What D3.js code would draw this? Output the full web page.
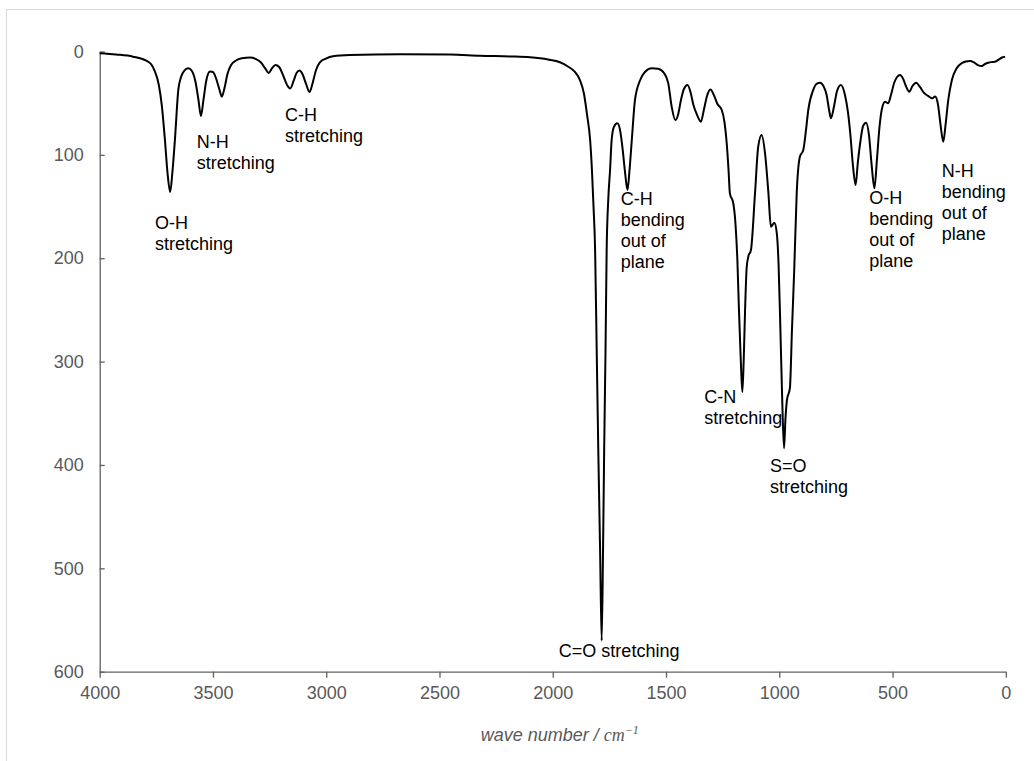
<!DOCTYPE html>
<html>
<head>
<meta charset="utf-8">
<script src="https://cdn.jsdelivr.net/npm/d3@7"></script>
<style>
  html, body { margin: 0; padding: 0; background: #fff; }
  svg { display: block; font-family: "Liberation Sans", Arial, sans-serif; }
</style>
</head>
<body>
<svg id="chart" width="1034" height="761"></svg>
<script>
// IR spectrum: wave number (cm^-1) and absorption (inverted axis)
const wavenumber = [
  4000, 3928, 3853, 3781, 3759, 3739, 3726, 3712, 3701, 3689, 3679, 3668, 3653, 3641, 3628,
  3609, 3593, 3577, 3564, 3553, 3542, 3529, 3513, 3500, 3484, 3471, 3461, 3449, 3436, 3420, 3398,
  3372, 3336, 3310, 3288, 3268, 3254, 3239, 3224, 3208, 3191, 3173, 3159, 3144, 3131, 3118, 3105,
  3089, 3074, 3061, 3045, 3028, 3001, 2970, 2895, 2674, 2454, 2321, 2189, 2100, 2021, 1968, 1933,
  1902, 1880, 1862, 1849, 1835, 1827, 1820, 1813, 1806, 1799, 1791, 1784, 1778, 1773, 1767, 1762,
  1755, 1747, 1740, 1730, 1715, 1703, 1692, 1681, 1670, 1661, 1651, 1637, 1614, 1593, 1563, 1535,
  1509, 1490, 1475, 1459, 1447, 1434, 1421, 1405, 1392, 1379, 1363, 1346, 1333, 1319, 1304, 1289,
  1273, 1254, 1242, 1232, 1224, 1218, 1203, 1193, 1185, 1178, 1170, 1163, 1157, 1151, 1144, 1137,
  1125, 1107, 1093, 1078, 1063, 1048, 1037, 1022, 1011, 1003, 995, 987, 979, 973, 966, 953,
  944, 934, 923, 909, 894, 882, 872, 850, 836, 820, 805, 791, 780, 772, 758, 745,
  728, 710, 697, 686, 675, 663, 653, 641, 630, 617, 604, 593, 580, 569, 558, 547,
  533, 519, 507, 493, 480, 467, 454, 441, 426, 412, 396, 379, 361, 343, 326, 312,
  299, 288, 276, 266, 254, 238, 217, 193, 176, 158, 140, 123, 106, 92, 77, 61,
  48, 30, 17, 3
];
const absorption = [
  1.7, 2.9, 5.0, 10.6, 17.9, 32.4, 51.8, 85.6, 116.6, 135.9, 116.6, 85.6, 37.2, 24.7, 18.9,
  16.3, 18.9, 29.5, 46.9, 62.4, 46.9, 27.6, 19.3, 19.8, 27.6, 37.2, 43.7, 35.3, 21.8, 13.1, 8.7,
  6.6, 5.8, 7.3, 10.6, 16.9, 20.8, 16.0, 13.1, 15.0, 22.7, 32.4, 35.8, 28.5, 20.8, 18.4, 21.8,
  31.4, 39.2, 31.4, 17.9, 10.6, 6.8, 4.6, 3.4, 2.7, 2.9, 4.1, 4.8, 5.6, 7.7, 10.4, 14.5,
  19.8, 27.6, 41.1, 60.5, 85.6, 114.6, 150.1, 192.0, 288.8, 385.5, 482.3, 570.0, 482.3, 385.5, 288.8, 192.0,
  143.7, 114.6, 85.6, 73.0, 69.5, 75.9, 93.4, 116.6, 134.0, 114.6, 85.6, 46.9, 27.6, 19.8, 16.3, 16.7,
  20.8, 30.8, 53.4, 66.3, 61.4, 46.9, 36.3, 32.4, 39.2, 51.8, 61.4, 67.9, 56.6, 43.0, 36.8, 42.1,
  50.8, 56.6, 68.2, 88.8, 114.6, 137.2, 146.8, 167.8, 201.7, 250.1, 298.4, 329.4, 298.4, 250.1, 209.4, 198.8,
  192.0, 136.9, 92.1, 80.8, 98.2, 136.9, 169.5, 165.6, 175.6, 206.5, 269.4, 337.1, 383.9, 356.5, 337.1, 325.5,
  269.4, 211.4, 136.9, 101.8, 95.3, 75.9, 56.6, 37.2, 31.4, 30.2, 33.4, 42.1, 56.6, 64.6, 52.7, 38.2,
  32.4, 42.1, 58.5, 80.8, 109.8, 129.1, 106.9, 85.6, 72.1, 68.9, 80.8, 107.9, 132.3, 105.0, 74.0, 55.6,
  48.6, 50.1, 42.1, 30.5, 24.7, 22.7, 26.1, 33.4, 38.9, 33.4, 30.2, 34.3, 40.1, 43.0, 45.3, 43.5,
  51.8, 71.1, 87.3, 71.1, 46.9, 27.6, 16.3, 11.1, 9.7, 9.2, 10.6, 13.1, 14.0, 12.1, 10.8, 10.2,
  9.9, 7.7, 5.8, 5.0
];

const xTickValues = [4000, 3500, 3000, 2500, 2000, 1500, 1000, 500, 0];
const yTickValues = [0, 100, 200, 300, 400, 500, 600];

// Band assignments: anchor (wave number, absorption) of the first text line
const bandLines = [
  ["O-H", "stretching"],
  ["N-H", "stretching"],
  ["C-H", "stretching"],
  ["C-H", "bending", "out of", "plane"],
  ["C=O stretching"],
  ["C-N", "stretching"],
  ["S=O", "stretching"],
  ["O-H", "bending", "out of", "plane"],
  ["N-H", "bending", "out of", "plane"]
];
const bandX = [3756, 3572, 3182, 1700, 1973, 1331, 1041, 603, 283];
const bandY = [171.7, 93.4, 66.9, 148.9, 586.2, 340, 406.8, 147.5, 121.4];

const width = 1034, height = 761;
const margin = { top: 51.5, right: 28.2, bottom: 89.3, left: 99.7 };

const svg = d3.select("#chart");

// outer frame
svg.append("rect")
  .attr("x", 6.5).attr("y", 9.5)
  .attr("width", 1100).attr("height", 800)
  .attr("fill", "none")
  .attr("stroke", "#d9d9d9")
  .attr("stroke-width", 1);

const x = d3.scaleLinear().domain([4000, 0]).range([margin.left, width - margin.right]);
const y = d3.scaleLinear().domain([0, 600]).range([margin.top, height - margin.bottom]);

const axisColor = "#606060";

const xAxis = svg.append("g")
  .attr("transform", `translate(0,${y(600)})`)
  .call(d3.axisBottom(x).tickValues(xTickValues).tickFormat(d3.format("d"))
    .tickSizeInner(6).tickSizeOuter(0).tickPadding(9));
const yAxis = svg.append("g")
  .attr("transform", `translate(${x(4000)},0)`)
  .call(d3.axisLeft(y).tickValues(yTickValues).tickFormat(d3.format("d"))
    .tickSizeInner(-5).tickSizeOuter(0).tickPadding(16));

[xAxis, yAxis].forEach(g => {
  g.select(".domain").attr("stroke", axisColor).attr("stroke-width", 1.3);
  g.selectAll(".tick line").attr("stroke", axisColor).attr("stroke-width", 1.3);
  g.selectAll(".tick text")
    .attr("fill", "#595959")
    .style("font-family", "'Liberation Sans', Arial, sans-serif")
    .style("font-size", "18px");
});

// spectrum trace
const points = wavenumber.map((w, i) => [w, absorption[i]]);
svg.append("path")
  .datum(points)
  .attr("fill", "none")
  .attr("stroke", "#000")
  .attr("stroke-width", 2)
  .attr("stroke-linejoin", "round")
  .attr("d", d3.line()
    .x(d => x(d[0]))
    .y(d => y(d[1]))
    .curve(d3.curveMonotoneX));

// band labels
bandLines.forEach((lines, i) => {
  const t = svg.append("text")
    .attr("x", x(bandX[i]))
    .attr("y", y(bandY[i]))
    .attr("fill", "#000")
    .style("font-size", "18px");
  lines.forEach((line, j) => {
    t.append("tspan")
      .attr("x", x(bandX[i]))
      .attr("dy", j === 0 ? 0 : 21)
      .text(line);
  });
});

// axis title
const title = svg.append("text")
  .attr("x", (x(4000) + x(0)) / 2 + 7)
  .attr("y", 741)
  .attr("text-anchor", "middle")
  .attr("fill", "#595959")
  .style("font-size", "18px")
  .style("font-style", "italic");
title.append("tspan").text("wave number / ");
title.append("tspan")
  .style("font-family", "'Liberation Serif', 'Times New Roman', serif")
  .text("cm");
title.append("tspan")
  .style("font-family", "'Liberation Serif', 'Times New Roman', serif")
  .style("font-size", "12px")
  .attr("dy", -7)
  .text("\u22121");
</script>
</body>
</html>
